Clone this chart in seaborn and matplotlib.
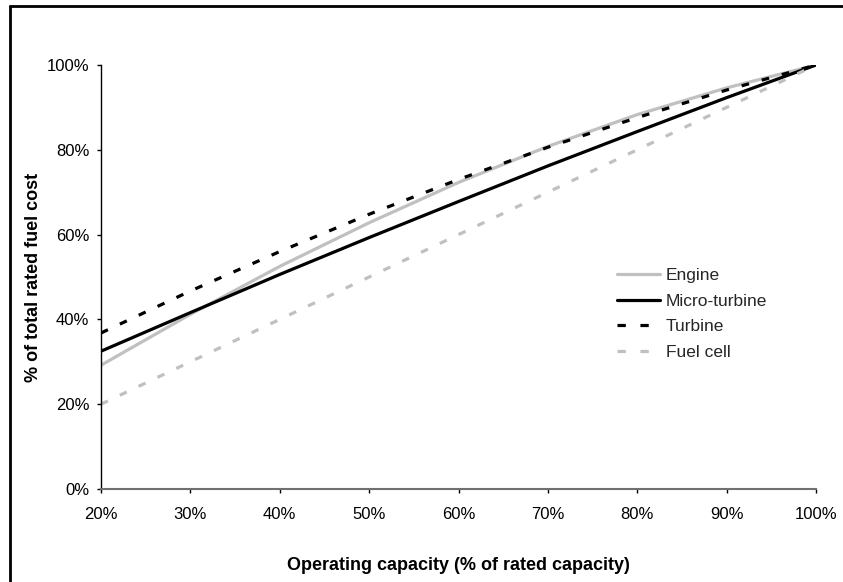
import matplotlib
matplotlib.use("Agg")
import matplotlib.pyplot as plt
from matplotlib.lines import Line2D
from matplotlib.ticker import FuncFormatter
import seaborn as sns
import pandas as pd

# Operating capacity (% of rated capacity)
capacity = [20, 30, 40, 50, 60, 70, 80, 90, 100]

# Fuel cost as % of total rated fuel cost
engine = [29.2, 41.2, 52.5, 62.8, 72.3, 80.8, 88.3, 94.6, 100.0]
micro_turbine = [32.5, 41.6, 50.6, 59.3, 67.8, 76.2, 84.3, 92.3, 100.0]
turbine = [36.8, 46.7, 56.0, 64.8, 73.0, 80.6, 87.6, 94.1, 100.0]
fuel_cell = [20.0, 30.0, 40.0, 50.0, 60.0, 70.0, 80.0, 90.0, 100.0]

series_names = ["Engine", "Micro-turbine", "Turbine", "Fuel cell"]
series_values = [engine, micro_turbine, turbine, fuel_cell]

frames = []
for name, vals in zip(series_names, series_values):
    frames.append(pd.DataFrame({"capacity": capacity, "cost": vals, "tech": name}))
df = pd.concat(frames, ignore_index=True)

sns.set_theme(style="white")
plt.rcParams["font.family"] = ["Liberation Sans", "DejaVu Sans"]
plt.rcParams["lines.scale_dashes"] = False

W, H = 843, 582
fig = plt.figure(figsize=(W / 100, H / 100), dpi=100)
fig.patch.set_facecolor("white")

left_px, right_px, top_px, bottom_px = 101, 816, 65, 489
ax = fig.add_axes([left_px / W, 1 - bottom_px / H,
                   (right_px - left_px) / W, (bottom_px - top_px) / H])

gray = "#c0c0c0"
palette = {"Engine": gray, "Micro-turbine": "black", "Turbine": "black", "Fuel cell": gray}
dash_pat = (5.5, 9.5)
dashes = {"Engine": "", "Micro-turbine": "", "Turbine": dash_pat, "Fuel cell": dash_pat}

sns.lineplot(data=df, x="capacity", y="cost", hue="tech", style="tech",
             palette=palette, dashes=dashes, hue_order=series_names,
             style_order=series_names, linewidth=2.3, ax=ax, legend=False)

ax.set_xlim(20, 100)
ax.set_ylim(0, 100)
ax.set_xticks(range(20, 101, 10))
ax.set_yticks(range(0, 101, 20))
pct = FuncFormatter(lambda v, p: f"{int(round(v))}%")
ax.xaxis.set_major_formatter(pct)
ax.yaxis.set_major_formatter(pct)
ax.tick_params(axis="both", which="major", direction="out", length=3, width=1,
               color="black", labelsize=12, labelcolor="black")
ax.tick_params(axis="x", bottom=True, pad=10)
ax.tick_params(axis="y", left=True, pad=5.5)

for s in ["top", "right"]:
    ax.spines[s].set_visible(False)
ax.spines["left"].set_color("black")
ax.spines["left"].set_linewidth(1)
ax.spines["bottom"].set_color("#707070")
ax.spines["bottom"].set_linewidth(1.5)

ax.set_xlabel("Operating capacity (% of rated capacity)", fontsize=13,
              fontweight="bold", labelpad=25, color="black")
ax.set_ylabel("% of total rated fuel cost", fontsize=13, fontweight="bold",
              labelpad=3, color="black")

# legend keys: two dashes for the dashed series
handles = []
for n in series_names:
    h = Line2D([], [], color=palette[n], linewidth=2.3)
    if dashes[n]:
        h.set_dashes((6.0, 10.5))
    handles.append(h)
leg = ax.legend(handles, series_names, loc="upper left",
                bbox_to_anchor=((617 - left_px) / (right_px - left_px),
                                1 - (268 - top_px) / (bottom_px - top_px)),
                frameon=False, fontsize=12.5, handlelength=2.5,
                handletextpad=0.3, labelspacing=0.6, borderaxespad=0,
                borderpad=0)

# outer frame (top and left edges)
fig.add_artist(Line2D([10 / W, 1], [1 - 6 / H, 1 - 6 / H], color="black",
                      linewidth=2, transform=fig.transFigure))
fig.add_artist(Line2D([10 / W, 10 / W], [0, 1 - 6 / H], color="black",
                      linewidth=2, transform=fig.transFigure))

fig.savefig("out.png", dpi=100, facecolor="white")
